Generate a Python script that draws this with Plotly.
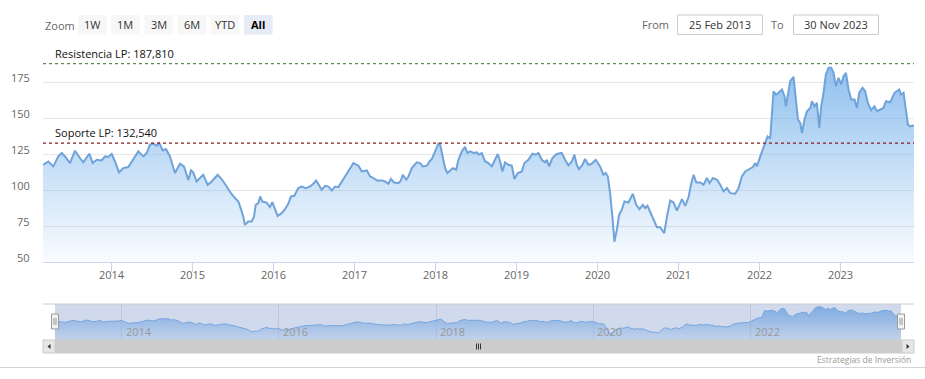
import plotly.graph_objects as go
import pandas as pd
import numpy as np

# ---------------- DATA ----------------
dec_years = [
    2013.151, 2013.217, 2013.278, 2013.340, 2013.382, 2013.423, 2013.485, 2013.546, 2013.608, 2013.649,
    2013.723, 2013.765, 2013.815, 2013.876, 2013.917, 2013.958, 2014.000, 2014.041, 2014.090, 2014.143,
    2014.205, 2014.267, 2014.329, 2014.391, 2014.433, 2014.473, 2014.514, 2014.556, 2014.588, 2014.630,
    2014.671, 2014.720, 2014.782, 2014.844, 2014.893, 2014.947, 2014.980, 2015.008, 2015.050, 2015.091,
    2015.132, 2015.186, 2015.236, 2015.310, 2015.359, 2015.421, 2015.474, 2015.524, 2015.565, 2015.598,
    2015.626, 2015.647, 2015.688, 2015.730, 2015.759, 2015.780, 2015.812, 2015.836, 2015.861, 2015.915,
    2015.956, 2015.985, 2016.018, 2016.051, 2016.101, 2016.142, 2016.182, 2016.216, 2016.257, 2016.306,
    2016.348, 2016.397, 2016.451, 2016.491, 2016.525, 2016.553, 2016.595, 2016.636, 2016.677, 2016.719,
    2016.759, 2016.800, 2016.842, 2016.904, 2016.954, 2016.986, 2017.047, 2017.089, 2017.151, 2017.192,
    2017.233, 2017.275, 2017.337, 2017.377, 2017.418, 2017.448, 2017.489, 2017.542, 2017.571, 2017.596,
    2017.637, 2017.665, 2017.707, 2017.769, 2017.810, 2017.843, 2017.893, 2017.925, 2017.955, 2017.995,
    2018.036, 2018.057, 2018.086, 2018.119, 2018.147, 2018.181, 2018.214, 2018.255, 2018.283, 2018.325,
    2018.366, 2018.394, 2018.428, 2018.469, 2018.511, 2018.539, 2018.572, 2018.613, 2018.654, 2018.696,
    2018.737, 2018.770, 2018.799, 2018.827, 2018.860, 2018.901, 2018.943, 2018.975, 2019.017, 2019.067,
    2019.099, 2019.148, 2019.198, 2019.240, 2019.272, 2019.314, 2019.355, 2019.376, 2019.404, 2019.445,
    2019.499, 2019.561, 2019.602, 2019.643, 2019.685, 2019.717, 2019.746, 2019.775, 2019.816, 2019.849,
    2019.890, 2019.932, 2019.981, 2020.034, 2020.075, 2020.105, 2020.130, 2020.158, 2020.186, 2020.211,
    2020.241, 2020.269, 2020.302, 2020.335, 2020.384, 2020.438, 2020.479, 2020.520, 2020.562, 2020.591,
    2020.619, 2020.652, 2020.693, 2020.735, 2020.775, 2020.825, 2020.859, 2020.899, 2020.940, 2020.982,
    2021.023, 2021.044, 2021.085, 2021.126, 2021.155, 2021.188, 2021.221, 2021.270, 2021.311, 2021.353,
    2021.385, 2021.427, 2021.477, 2021.517, 2021.558, 2021.600, 2021.641, 2021.703, 2021.743, 2021.785,
    2021.826, 2021.888, 2021.921, 2021.950, 2021.971, 2022.012, 2022.052, 2022.102, 2022.135, 2022.176,
    2022.206, 2022.238, 2022.280, 2022.312, 2022.329, 2022.354, 2022.382, 2022.423, 2022.453, 2022.478,
    2022.506, 2022.527, 2022.559, 2022.589, 2022.630, 2022.651, 2022.683, 2022.712, 2022.741, 2022.765,
    2022.794, 2022.823, 2022.856, 2022.889, 2022.918, 2022.947, 2022.979, 2023.013, 2023.041, 2023.071,
    2023.103, 2023.136, 2023.177, 2023.206, 2023.235, 2023.276, 2023.309, 2023.342, 2023.383, 2023.424,
    2023.454, 2023.495, 2023.536, 2023.565, 2023.618, 2023.671, 2023.701, 2023.730, 2023.754, 2023.783,
    2023.812, 2023.837, 2023.865, 2023.890, 2023.912,
]
prices = [
    117.5, 119.8, 116.4, 123.3, 125.7, 123.3, 118.7, 127.3, 122.2, 119.2,
    125.2, 118.7, 121.0, 120.5, 123.3, 122.9, 125.0, 119.8, 112.2, 115.2,
    115.9, 121.0, 126.8, 123.3, 125.7, 131.5, 132.2, 130.8, 132.7, 127.5,
    128.5, 123.3, 111.8, 118.2, 116.4, 107.0, 113.6, 112.2, 105.9, 108.3,
    110.6, 103.6, 105.9, 110.6, 107.6, 102.4, 97.8, 94.4, 92.0, 86.7,
    81.5, 75.8, 78.1, 78.1, 81.5, 89.7, 90.9, 95.5, 92.0, 91.3,
    88.1, 91.6, 87.4, 82.0, 83.9, 86.7, 90.4, 95.5, 96.0, 101.3,
    102.4, 101.3, 102.4, 104.3, 106.6, 104.3, 100.1, 102.9, 102.4, 99.7,
    102.4, 102.0, 105.9, 111.8, 116.4, 118.7, 116.9, 112.9, 113.6, 109.4,
    108.3, 106.6, 106.6, 105.9, 104.3, 107.6, 105.2, 104.8, 106.4, 110.6,
    107.1, 109.4, 115.2, 119.2, 118.7, 116.4, 116.9, 119.8, 121.5, 126.8,
    132.2, 131.5, 124.5, 115.2, 111.8, 113.6, 115.2, 114.1, 121.0, 126.8,
    129.9, 125.7, 126.8, 125.7, 126.1, 124.5, 125.7, 119.8, 118.7, 116.4,
    121.0, 125.0, 119.8, 112.9, 119.2, 117.5, 116.9, 107.6, 111.8, 112.9,
    118.7, 121.0, 125.2, 124.5, 125.7, 121.0, 119.2, 121.0, 116.4, 122.2,
    125.0, 125.7, 121.0, 117.1, 119.8, 124.5, 117.5, 114.5, 117.5, 121.5,
    117.5, 118.2, 121.0, 116.4, 110.6, 111.8, 109.4, 97.8, 81.5, 64.1,
    72.3, 82.7, 86.2, 92.0, 91.3, 97.4, 89.7, 86.7, 89.7, 87.4,
    89.0, 85.0, 79.2, 74.2, 74.2, 70.0, 81.5, 92.7, 91.3, 85.7,
    90.9, 93.7, 89.0, 95.1, 103.6, 110.6, 105.2, 105.2, 103.6, 108.3,
    104.8, 108.3, 107.1, 103.6, 99.0, 101.3, 97.8, 97.4, 101.3, 109.4,
    112.9, 114.5, 115.9, 118.7, 116.4, 123.3, 129.2, 137.3, 135.8, 168.6,
    166.3, 167.5, 169.8, 165.1, 158.1, 166.3, 175.6, 178.6, 164.0, 148.9,
    146.6, 139.6, 148.9, 154.7, 157.0, 161.6, 158.1, 160.5, 143.1, 158.1,
    167.5, 180.2, 184.9, 184.9, 181.4, 172.1, 177.9, 173.3, 179.0, 181.4,
    169.8, 162.8, 162.8, 157.0, 167.5, 171.0, 168.6, 160.5, 155.4, 158.1,
    154.7, 155.8, 157.0, 161.6, 160.9, 167.5, 168.6, 169.8, 166.3, 167.5,
    155.8, 145.4, 144.2, 144.7, 144.5,
]

range_start = "2013-02-25"
range_end = "2023-11-30"
from_label = "25 Feb 2013"
to_label = "30 Nov 2023"

level_values = [187.81, 132.54]
level_labels = ["Resistencia LP: 187,810", "Soporte LP: 132,540"]
level_colors = ["#5e8a4c", "#8b1c1c"]

y_tick_values = [50, 75, 100, 125, 150, 175]
x_tick_years = [2014, 2015, 2016, 2017, 2018, 2019, 2020, 2021, 2022, 2023]
nav_tick_years = [2014, 2016, 2018, 2020, 2022]
button_labels = ["1W", "1M", "3M", "6M", "YTD", "All"]
credit_text = "Estrategias de Inversión"

# ---------------- HELPERS ----------------
W, H = 925, 379
FONT = "Open Sans"


def dec_to_date(d):
    y = int(np.floor(d))
    start = pd.Timestamp(year=y, month=1, day=1)
    end = pd.Timestamp(year=y + 1, month=1, day=1)
    return start + (end - start) * (d - y)


def px(x):
    return x / W


def py(y):
    return 1 - y / H


dates = [dec_to_date(d) for d in dec_years]

fig = go.Figure()

# main area series
fig.add_trace(go.Scatter(
    x=dates, y=prices, mode="lines",
    line=dict(color="#6fa3da", width=2),
    fill="tozeroy",
    fillgradient=dict(type="vertical", start=50, stop=186,
                      colorscale=[[0, "rgba(124,181,236,0.04)"], [1, "rgba(124,181,236,0.85)"]]),
    xaxis="x", yaxis="y", showlegend=False, hoverinfo="x+y",
))

# navigator series
fig.add_trace(go.Scatter(
    x=dates, y=prices, mode="lines",
    line=dict(color="#7cb5ec", width=1),
    fill="tozeroy",
    fillgradient=dict(type="vertical", start=40, stop=186,
                      colorscale=[[0, "rgba(124,181,236,0.15)"], [1, "rgba(124,181,236,0.9)"]]),
    xaxis="x2", yaxis="y2", showlegend=False, hoverinfo="skip",
))

shapes = []
annotations = []

# support / resistance lines
for v, lab, col in zip(level_values, level_labels, level_colors):
    shapes.append(dict(type="line", xref="x domain", yref="y", x0=0, x1=1, y0=v, y1=v,
                       line=dict(color=col, width=1.2, dash="dot"), layer="above"))
    annotations.append(dict(text=lab, xref="x domain", yref="y", x=0.0115, y=v,
                            xanchor="left", yanchor="bottom", yshift=1, showarrow=False,
                            font=dict(family=FONT, size=11, color="#111")))

# y tick labels (shifted above gridlines like Highcharts)
for v in y_tick_values:
    annotations.append(dict(text=str(v), xref="paper", yref="y", x=px(32), y=v,
                            xanchor="right", yanchor="middle", yshift=5, showarrow=False,
                            font=dict(family=FONT, size=11, color="#666666")))

# x tick labels
for yr in x_tick_years:
    annotations.append(dict(text=str(yr), xref="x", yref="paper", x=f"{yr}-01-01", y=py(274),
                            xanchor="center", yanchor="middle", showarrow=False,
                            font=dict(family=FONT, size=11, color="#666666")))

# navigator mask, outline
shapes.append(dict(type="rect", xref="paper", yref="paper", x0=px(55), x1=px(901), y0=py(340), y1=py(304),
                   fillcolor="rgba(102,133,194,0.3)", line=dict(width=0), layer="above"))
shapes.append(dict(type="line", xref="paper", yref="paper", x0=px(43), x1=px(914), y0=py(304), y1=py(304),
                   line=dict(color="#cccccc", width=1), layer="above"))

# navigator labels
for yr in nav_tick_years:
    annotations.append(dict(text=str(yr), xref="x2", yref="paper", x=f"{yr}-01-01", y=py(331),
                            xanchor="left", yanchor="middle", xshift=2, showarrow=False,
                            font=dict(family=FONT, size=11, color="#999999")))

# navigator handles
for hx in [55, 901]:
    shapes.append(dict(type="rect", xref="paper", yref="paper", x0=px(hx - 3.5), x1=px(hx + 3.5),
                       y0=py(329), y1=py(314), fillcolor="#f2f2f2", line=dict(color="#999999", width=1),
                       layer="above"))
    for dx in [-1, 1]:
        shapes.append(dict(type="line", xref="paper", yref="paper", x0=px(hx + dx), x1=px(hx + dx),
                           y0=py(325), y1=py(318), line=dict(color="#999999", width=1), layer="above"))

# scrollbar
shapes.append(dict(type="rect", xref="paper", yref="paper", x0=px(43), x1=px(914), y0=py(353), y1=py(340),
                   fillcolor="#f2f2f2", line=dict(width=0), layer="above"))
shapes.append(dict(type="rect", xref="paper", yref="paper", x0=px(55), x1=px(902), y0=py(353), y1=py(340),
                   fillcolor="#cccccc", line=dict(color="#cccccc", width=1), layer="above"))
for bx0, bx1 in [(43, 55), (902, 914)]:
    shapes.append(dict(type="rect", xref="paper", yref="paper", x0=px(bx0), x1=px(bx1), y0=py(353), y1=py(340),
                       fillcolor="#e6e6e6", line=dict(color="#cccccc", width=1), layer="above"))
# arrows
shapes.append(dict(type="path", xref="paper", yref="paper",
                   path=f"M {px(47.5)} {py(346.5)} L {px(50.5)} {py(344)} L {px(50.5)} {py(349)} Z",
                   fillcolor="#333333", line=dict(width=0), layer="above"))
shapes.append(dict(type="path", xref="paper", yref="paper",
                   path=f"M {px(909.5)} {py(346.5)} L {px(906.5)} {py(344)} L {px(906.5)} {py(349)} Z",
                   fillcolor="#333333", line=dict(width=0), layer="above"))
for gx in [476.5, 478.5, 480.5]:
    shapes.append(dict(type="line", xref="paper", yref="paper", x0=px(gx), x1=px(gx), y0=py(349.5), y1=py(343.5),
                       line=dict(color="#333333", width=1), layer="above"))

# bottom separator line
shapes.append(dict(type="line", xref="paper", yref="paper", x0=0, x1=1, y0=py(367.5), y1=py(367.5),
                   line=dict(color="#d4d4dc", width=1), layer="above"))

# credit
annotations.append(dict(text=credit_text, xref="paper", yref="paper", x=px(913), y=py(359),
                        xanchor="right", yanchor="middle", showarrow=False,
                        font=dict(family=FONT, size=8.5, color="#999999")))

# range selector ("Zoom" + buttons)
annotations.append(dict(text="Zoom", xref="paper", yref="paper", x=px(43), y=py(25),
                        xanchor="left", yanchor="middle", showarrow=False,
                        font=dict(family=FONT, size=11, color="#666666")))
for i, lab in enumerate(button_labels):
    x0 = 78 + i * 33.2
    active = lab == "All"
    shapes.append(dict(type="rect", xref="paper", yref="paper", x0=px(x0), x1=px(x0 + 28.5),
                       y0=py(34.5), y1=py(15), fillcolor="#e6ebf5" if active else "#f7f7f7",
                       line=dict(width=0), layer="above"))
    annotations.append(dict(text=f"<b>{lab}</b>" if active else lab, xref="paper", yref="paper",
                            x=px(x0 + 14.25), y=py(24.5), xanchor="center", yanchor="middle", showarrow=False,
                            font=dict(family=FONT, size=11, color="#000000" if active else "#333333")))

# From / To inputs
annotations.append(dict(text="From", xref="paper", yref="paper", x=px(671), y=py(24.5),
                        xanchor="right", yanchor="middle", showarrow=False,
                        font=dict(family=FONT, size=11, color="#666666")))
annotations.append(dict(text="To", xref="paper", yref="paper", x=px(786), y=py(24.5),
                        xanchor="right", yanchor="middle", showarrow=False,
                        font=dict(family=FONT, size=11, color="#666666")))
for (bx0, bx1), lab in zip([(677.5, 762.5), (793.5, 878.5)], [from_label, to_label]):
    shapes.append(dict(type="rect", xref="paper", yref="paper", x0=px(bx0), x1=px(bx1),
                       y0=py(34.5), y1=py(15), fillcolor="#ffffff",
                       line=dict(color="#cccccc", width=1), layer="above"))
    annotations.append(dict(text=lab, xref="paper", yref="paper", x=px((bx0 + bx1) / 2), y=py(24.5),
                            xanchor="center", yanchor="middle", showarrow=False,
                            font=dict(family=FONT, size=11, color="#333333")))

fig.update_layout(
    width=W, height=H,
    margin=dict(l=0, r=0, t=0, b=0),
    paper_bgcolor="#ffffff", plot_bgcolor="rgba(0,0,0,0)",
    font=dict(family=FONT, size=11, color="#666666"),
    showlegend=False,
    xaxis=dict(domain=[px(43), px(914)], anchor="y", type="date", range=[range_start, range_end],
               showgrid=False, zeroline=False, showline=True, linecolor="#ccd6eb", linewidth=1,
               ticks="outside", ticklen=9, tickcolor="#ccd6eb", tickwidth=1,
               tickvals=[f"{y}-01-01" for y in x_tick_years], showticklabels=False),
    yaxis=dict(domain=[py(262), py(46)], anchor="x", range=[50, 200],
               tickvals=[50, 75, 100, 125, 150, 175, 200], showticklabels=False,
               showgrid=True, gridcolor="#e6e6e6", gridwidth=1, zeroline=False, showline=False),
    xaxis2=dict(domain=[px(55), px(901)], anchor="y2", type="date", range=[range_start, range_end],
                showgrid=True, gridcolor="#e6e6e6", zeroline=False, showline=False, ticks="",
                tickvals=[f"{y}-01-01" for y in nav_tick_years], showticklabels=False),
    yaxis2=dict(domain=[py(340), py(304)], anchor="x2", range=[40, 197], visible=False, showgrid=False),
    shapes=shapes,
    annotations=annotations,
)

fig.write_html("out.html", config={"displayModeBar": False},
               post_script="document.body.style.margin='0';document.body.style.overflow='hidden';")
